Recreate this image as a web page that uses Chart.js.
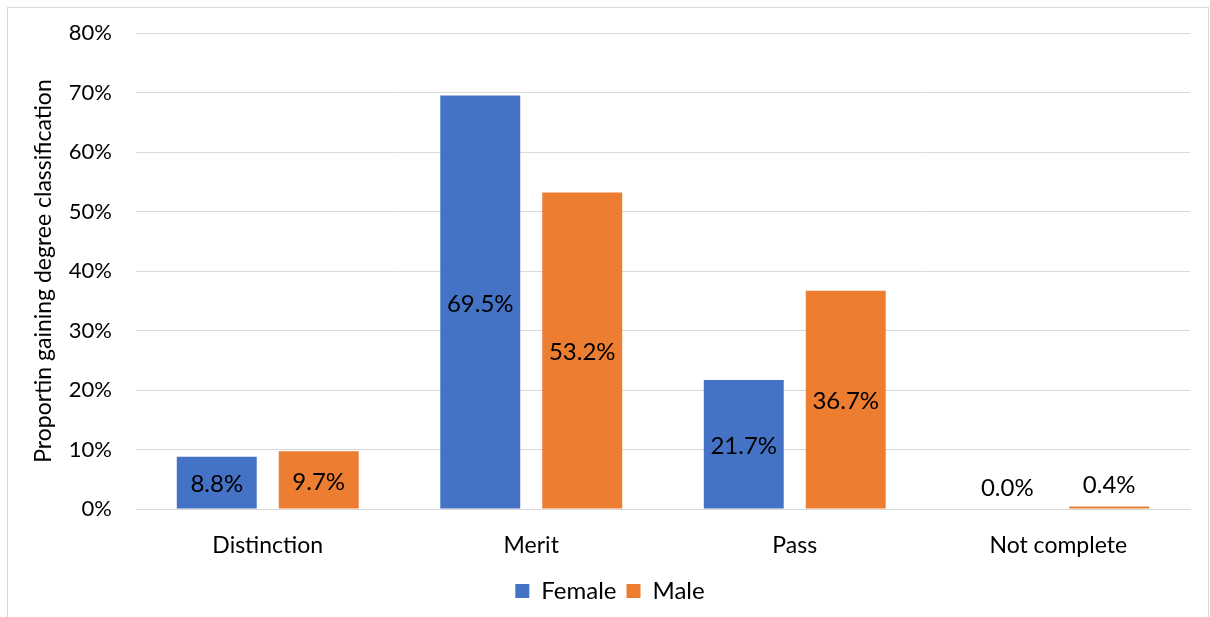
<!DOCTYPE html>
<html>
<head>
<meta charset="utf-8">
<script src="https://cdn.jsdelivr.net/npm/chart.js@4"></script>
<style>
html,body{margin:0;padding:0;background:#fff;}
#wrap{position:relative;width:1210px;height:617px;}
#frame{position:absolute;left:7px;top:7px;width:1202px;height:620px;border:1px solid #d9d9d9;box-sizing:border-box;}
canvas{position:absolute;left:0;top:0;}
</style>
</head>
<body>
<div id="wrap"><div id="frame"></div><canvas id="c" width="1210" height="617"></canvas></div>
<script>
const categories = ["Distinction", "Merit", "Pass", "Not complete"];
const femaleValues = [8.8, 69.5, 21.7, 0.0];
const maleValues = [9.7, 53.2, 36.7, 0.4];
const seriesNames = ["Female", "Male"];
const yTicks = [0, 10, 20, 30, 40, 50, 60, 70, 80];
const yTitle = "Proportin gaining degree classification";

const FONT = "Lato, 'Open Sans', sans-serif";

const labelPlugin = {
  id: 'barLabels',
  afterDatasetsDraw(chart) {
    const ctx = chart.ctx;
    ctx.save();
    ctx.font = "24px " + FONT;
    ctx.fillStyle = "#000";
    ctx.textAlign = "center";
    ctx.textBaseline = "middle";
    chart.data.datasets.forEach((ds, di) => {
      const meta = chart.getDatasetMeta(di);
      meta.data.forEach((bar, i) => {
        const v = ds.data[i];
        const txt = v.toFixed(1) + "%";
        const h = bar.base - bar.y;
        let y;
        if (h > 30) y = (bar.y + bar.base) / 2 + 2;
        else y = bar.y - 21;
        ctx.fillText(txt, bar.x, y);
      });
    });
    ctx.restore();
  }
};

new Chart(document.getElementById('c'), {
  type: 'bar',
  data: {
    labels: categories,
    datasets: [
      { label: seriesNames[0], data: femaleValues, backgroundColor: '#4472C4', categoryPercentage: 0.774, barPercentage: 0.784 },
      { label: seriesNames[1], data: maleValues, backgroundColor: '#ED7D31', categoryPercentage: 0.774, barPercentage: 0.784 }
    ]
  },
  options: {
    responsive: false,
    animation: false,
    devicePixelRatio: 1,
    layout: { padding: { left: 30, right: 20, top: 33, bottom: 4 } },
    plugins: {
      legend: {
        position: 'bottom',
        labels: {
          font: { size: 24, family: FONT },
          color: '#000',
          boxWidth: 14,
          boxHeight: 14,
          padding: 10
        }
      },
      tooltip: { enabled: false }
    },
    scales: {
      x: {
        grid: { display: false, drawTicks: false },
        border: { display: true, color: '#d9d9d9', width: 1 },
        ticks: { font: { size: 23, family: FONT }, color: '#000', padding: 23 },
        afterFit(s) { s.height = 60; }
      },
      y: {
        min: 0, max: 80,
        afterBuildTicks(s) { s.ticks = yTicks.map(v => ({ value: v })); },
        grid: { color: '#d9d9d9', drawTicks: false },
        border: { display: false },
        ticks: { font: { size: 22, family: FONT }, color: '#000', padding: 24, callback: v => v + '%' },
        title: { display: true, text: yTitle, font: { size: 23, family: FONT }, color: '#000', padding: 0 },
        afterFit(s) { s.width = 106; s.paddingTop = 0; s.paddingBottom = 0; }
      }
    }
  },
  plugins: [labelPlugin]
});
</script>
</body>
</html>
